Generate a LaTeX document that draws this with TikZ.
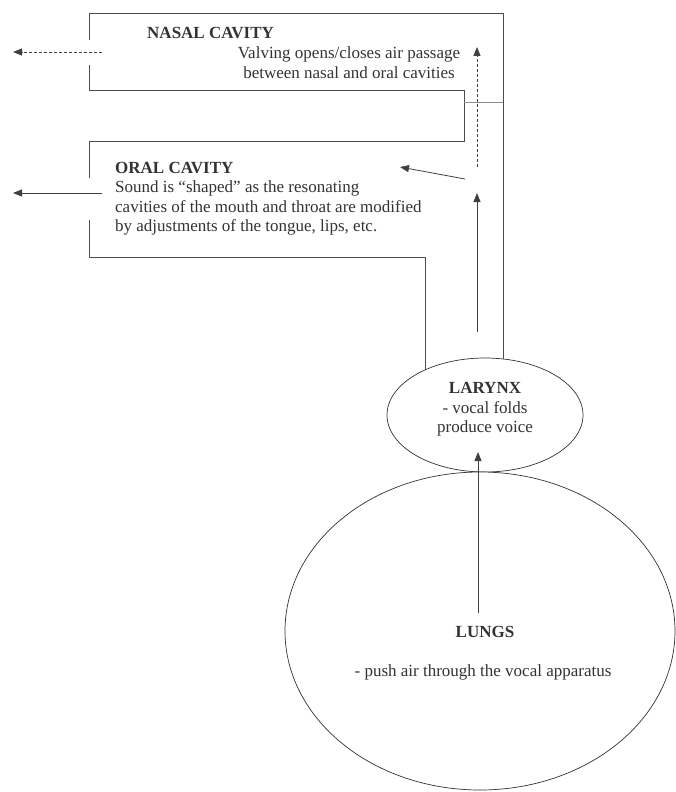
\documentclass[tikz,border=0pt]{standalone}
\usepackage{fontspec}
\setmainfont{Liberation Serif}
\usetikzlibrary{arrows.meta}
\usetikzlibrary{shapes.geometric}
\tikzset{wall/.style={draw=black!70,line width=0.9pt},
  flow/.style={-{Triangle[length=9pt,width=7pt]},draw=black!75,line width=0.8pt},
  organ/.style={ellipse,draw=black!80,line width=0.7pt,fill=white,inner sep=0pt},
  txt/.style={text=black!80,inner sep=0pt,font=\fontsize{17}{19.5}\selectfont}}

\begin{document}
\begin{tikzpicture}[x=1pt,y=-1pt]
\useasboundingbox (0,0) rectangle (676,792);
% nasal cavity
\draw[wall] (89,40) -- (89,13) -- (503,13) -- (503,385);
\draw[wall] (89,65) -- (89,90) -- (464,90) -- (464,141) -- (89,141) -- (89,178);
\draw[black!45,line width=0.4pt] (464,102) -- (503,102);
% oral cavity
\draw[wall] (89,220) -- (89,257) -- (425,257) -- (425,395);
% larynx and lungs
\node[organ,minimum width=196pt,minimum height=114pt] (larynx) at (485,415) {};
\node[organ,minimum width=390pt,minimum height=318pt] (lungs) at (480,631) {};
% air flow
\coordinate (lungsair) at (478,613);
\coordinate (folds) at (478,452);
\coordinate (voice) at (477,332);
\coordinate (throat) at (477,193);
\coordinate (velum) at (477,167);
\coordinate (nasalup) at (477,47);
\coordinate (bend) at (465,179);
\coordinate (mouth) at (400,167);
\coordinate (nosein) at (102,52);
\coordinate (noseout) at (13,52);
\coordinate (lipsin) at (102,193);
\coordinate (lipsout) at (13,193);
\draw[flow] (lungsair) -- (folds);
\draw[flow] (voice) -- (throat);
\draw[flow,dash pattern=on 3pt off 2pt] (velum) -- (nasalup);
\draw[flow] (bend) -- (mouth);
\draw[flow,dash pattern=on 3pt off 2pt] (nosein) -- (noseout);
\draw[flow] (lipsin) -- (lipsout);
% labels
\node[txt,anchor=west,font=\fontsize{17}{19.5}\selectfont\bfseries] (nasal) at (147,33) {NASAL CAVITY};
\node[txt,align=center] (valve) at (349,62.5) {Valving opens/closes air passage\\between nasal and oral cavities};
\node[txt,align=left,anchor=north west] (oral) at (115,162) {\textbf{ORAL CAVITY}\\Sound is ``shaped'' as the resonating\\cavities of the mouth and throat are modified\\by adjustments of the tongue, lips, etc.};
\node[txt,align=center] (larynxtext) at (485,409.5) {\textbf{LARYNX}\\- vocal folds\\produce voice};
\node[txt,font=\fontsize{17}{19.5}\selectfont\bfseries] (lungstext) at (485,632) {LUNGS};
\node[txt] (push) at (483,672) {- push air through the vocal apparatus};
\end{tikzpicture}
\end{document}
